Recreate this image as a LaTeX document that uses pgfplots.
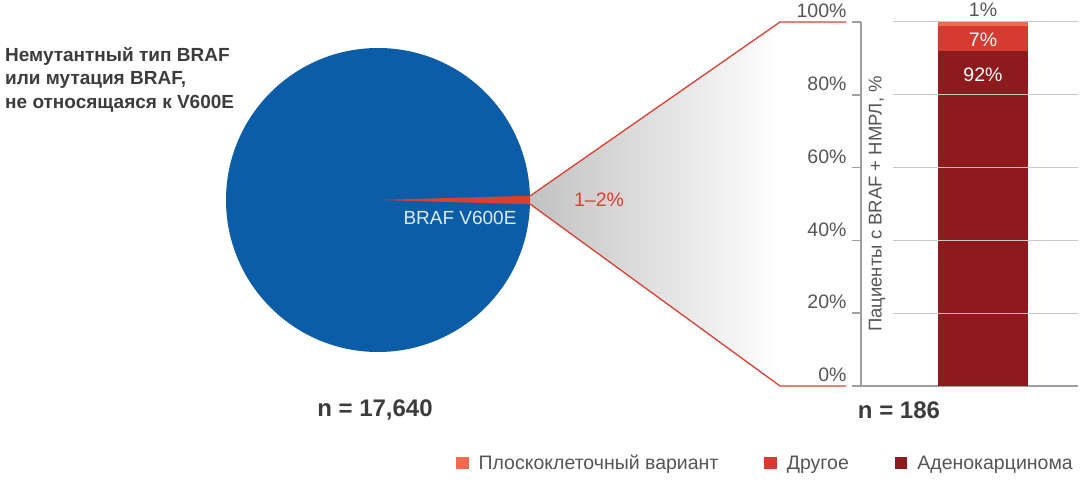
\documentclass[border=0pt]{standalone}
\usepackage{fontspec}
\setmainfont{Liberation Sans}
\usepackage{pgfplots}
\pgfplotsset{compat=1.18}

\definecolor{pieblue}{HTML}{0B5DA8}
\definecolor{wedgered}{HTML}{D9402F}
\definecolor{squam}{HTML}{EE6B4D}
\definecolor{other}{HTML}{D63B31}
\definecolor{adeno}{HTML}{8D1B1E}
\definecolor{textgray}{HTML}{555555}
\definecolor{titlegray}{HTML}{3C3C3C}
\definecolor{axisgray}{HTML}{9E9E9E}
\definecolor{gridgray}{HTML}{C8C8C8}
\definecolor{labelblue}{HTML}{DDEBF8}

\begin{document}
\begin{tikzpicture}[x=1pt,y=1pt]
\useasboundingbox (0,0) rectangle (1080,487);

% zoom band between pie and bar
\shade[left color=black!24, right color=white]
  (530,291) -- (780,465) -- (780,101) -- (530,283) -- cycle;
\draw[wedgered, line width=1.3pt] (530,291) -- (780,465) -- (846,465);
\draw[wedgered, line width=1.3pt] (530,283) -- (780,101) -- (846,101);

% pie: BRAF V600E share, percent
\def\share{0.9}
\fill[pieblue] (378,287) circle (152);
\fill[wedgered] (378,287) -- ++({-1.8*\share}:152)
  arc[start angle={-1.8*\share}, end angle={1.8*\share}, radius=152] -- cycle;

\node[text=labelblue, font=\fontsize{19}{22}\selectfont] at (460,269) {BRAF V600E};
\node[text=wedgered, font=\fontsize{19.5}{22}\selectfont] at (599,287) {1–2\%};

\node[anchor=north west, align=left, text=titlegray,
      font=\fontsize{19}{23.5}\selectfont\bfseries, inner sep=0pt]
  at (5,440) {Немутантный тип BRAF\\или мутация BRAF,\\не относящаяся к V600E};

\node[text=titlegray, font=\fontsize{24}{27}\selectfont\bfseries] at (375,77) {n = 17,640};
\node[text=titlegray, font=\fontsize{24}{27}\selectfont\bfseries] at (899,77) {n = 186};

\begin{axis}[
  at={(861pt,101pt)}, anchor=south west,
  width=217pt, height=364pt, scale only axis,
  xmin=0, xmax=217, ymin=0, ymax=100,
  enlargelimits=false, clip=false,
  ybar stacked, bar width=90pt,
  axis x line*=bottom, axis y line*=left,
  axis line style={draw=axisgray, line width=2.4pt, -},
  xtick=\empty,
  ytick={0,20,40,60,80,100},
  yticklabel={\pgfmathprintnumber{\tick}\%},
  /pgf/number format/assume math mode=true,
  tick align=outside, major tick length=9pt,
  tick style={draw=axisgray, line width=1.6pt},
  yticklabel style={text=textgray, font=\fontsize{19.5}{22}\selectfont,
    xshift=-2pt, yshift=11pt},
  legend image code/.code={\fill[#1, draw=none] (0pt,-6.25pt) rectangle (12.5pt,6.25pt);},
  reverse legend,
  legend columns=3,
  legend style={at={(1.0,-0.212)}, anchor=east, draw=none, fill=none,
    text=textgray, font=\fontsize{19.5}{22}\selectfont,
    /tikz/every odd column/.append style={column sep=8pt},
    /tikz/every even column/.append style={column sep=44pt}},
]
\draw[gridgray, line width=1pt] (axis cs:32,20) -- (axis cs:217,20);
\draw[gridgray, line width=1pt] (axis cs:32,40) -- (axis cs:217,40);
\draw[gridgray, line width=1pt] (axis cs:32,60) -- (axis cs:217,60);
\draw[gridgray, line width=1pt] (axis cs:32,80) -- (axis cs:217,80);
\draw[gridgray, line width=1pt] (axis cs:32,100) -- (axis cs:217,100);

\addplot[fill=adeno, draw=none] coordinates {(122,92)};
\addplot[fill=other, draw=none] coordinates {(122,7)};
\addplot[fill=squam, draw=none] coordinates {(122,1)};
\legend{Аденокарцинома, Другое, Плоскоклеточный вариант}

\node[rotate=90, text=textgray, font=\fontsize{18.5}{20}\selectfont]
  at (axis cs:16,50) {Пациенты с BRAF + НМРЛ, \%};
\end{axis}

% bar segment labels, drawn over the bars
\node[text=white, font=\fontsize{19.5}{22}\selectfont] at (983,412) {92\%};
\node[text=white, font=\fontsize{19.5}{22}\selectfont] at (983,447) {7\%};
\node[text=textgray, font=\fontsize{19.5}{22}\selectfont] at (983,477) {1\%};
\end{tikzpicture}
\end{document}
